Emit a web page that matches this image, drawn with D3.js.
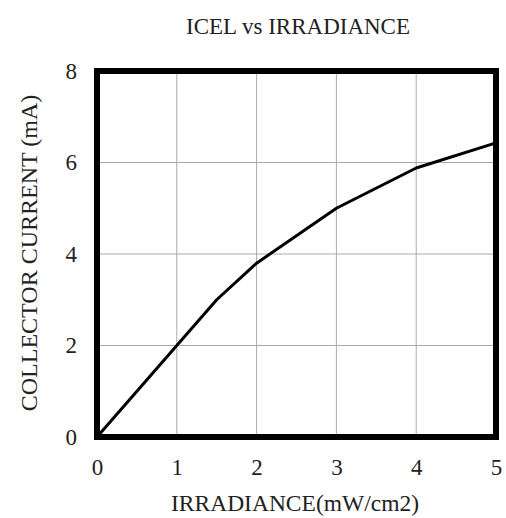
<!DOCTYPE html>
<html>
<head>
<meta charset="utf-8">
<script src="https://cdn.jsdelivr.net/npm/d3@7"></script>
<style>
  body { margin: 0; background: #fff; }
  text { font-family: "Liberation Serif", "DejaVu Serif", serif; fill: #222; }
</style>
</head>
<body>
<div id="chart"></div>
<script>
// ICEL vs IRRADIANCE

// data
let irradiance = [0, 1, 1.5, 2, 3, 4, 5];
let current = [0, 2, 3, 3.8, 5, 5.88, 6.43];
let xTicks = [0, 1, 2, 3, 4, 5];
let yTicks = [0, 2, 4, 6, 8];

let W = 506, H = 518;
let margin = {top: 71, right: 10, bottom: 81, left: 97};
let width = 496 - margin.left;
let height = 437 - margin.top;

let svg = d3.select('#chart').append('svg')
  .attr('width', W)
  .attr('height', H);

let g = svg.append('g')
  .attr('transform', 'translate(' + margin.left + ',' + margin.top + ')');

let xScale = d3.scaleLinear().domain([0, 5]).range([0, width]);
let yScale = d3.scaleLinear().domain([0, 8]).range([height, 0]);

// grid
g.append('g').selectAll('line')
  .data(xTicks)
  .enter().append('line')
  .attr('x1', d => xScale(d)).attr('x2', d => xScale(d))
  .attr('y1', 0).attr('y2', height)
  .attr('stroke', '#aaa').attr('stroke-width', 1);
g.append('g').selectAll('line')
  .data(yTicks)
  .enter().append('line')
  .attr('x1', 0).attr('x2', width)
  .attr('y1', d => yScale(d)).attr('y2', d => yScale(d))
  .attr('stroke', '#aaa').attr('stroke-width', 1);

// axes (labels only)
let xAxis = d3.axisBottom(xScale).tickValues(xTicks).tickSize(0).tickPadding(22).tickFormat(d3.format('d'));
let yAxis = d3.axisLeft(yScale).tickValues(yTicks).tickSize(0).tickPadding(20).tickFormat(d3.format('d'));

let gx = g.append('g')
  .attr('transform', 'translate(0,' + height + ')')
  .call(xAxis);
let gy = g.append('g').call(yAxis);
[gx, gy].forEach(function(a) {
  a.select('.domain').remove();
  a.selectAll('text')
    .style('font-family', '"Liberation Serif", "DejaVu Serif", serif')
    .style('font-size', '23px')
    .attr('fill', '#222');
});

// line
let line = d3.line()
  .x((d, i) => xScale(irradiance[i]))
  .y(d => yScale(d));
g.append('path')
  .datum(current)
  .attr('d', line)
  .attr('fill', 'none')
  .attr('stroke', '#000')
  .attr('stroke-width', 3)
  .attr('stroke-linejoin', 'round');

// frame
g.append('rect')
  .attr('x', 0).attr('y', 0)
  .attr('width', width).attr('height', height)
  .attr('fill', 'none')
  .attr('stroke', '#000')
  .attr('stroke-width', 6);

// title and labels
svg.append('text')
  .attr('x', 298).attr('y', 34)
  .attr('text-anchor', 'middle')
  .style('font-size', '23px')
  .text('ICEL vs IRRADIANCE');

svg.append('text')
  .attr('x', 295).attr('y', 511)
  .attr('text-anchor', 'middle')
  .style('font-size', '23.5px')
  .text('IRRADIANCE(mW/cm2)');

svg.append('text')
  .attr('transform', 'translate(37,' + 253 + ') rotate(-90)')
  .attr('text-anchor', 'middle')
  .style('font-size', '24px')
  .text('COLLECTOR CURRENT (mA)');
</script>
</body>
</html>
